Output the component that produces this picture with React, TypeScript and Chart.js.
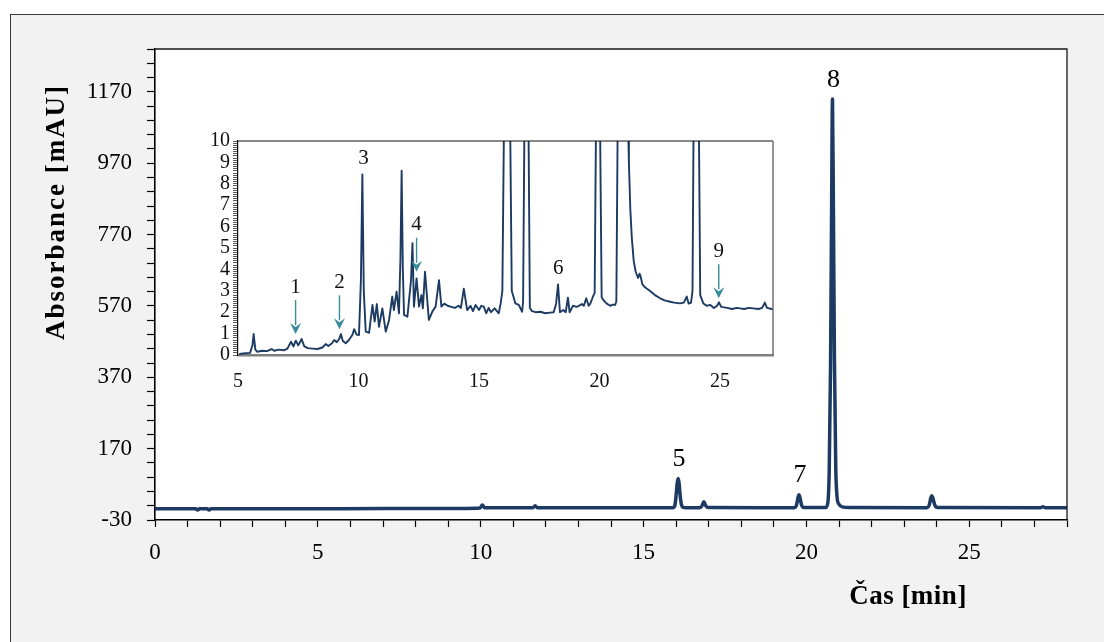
import React, { useEffect, useRef } from 'react';
import { Chart, registerables } from 'chart.js';

Chart.register(...registerables);

const SERIF = "'Liberation Serif', 'Times New Roman', serif";

// Full chromatogram: retention time (min) and absorbance (mAU)
const runTime = [
  0, 1.25, 1.31, 1.37, 1.6, 1.66, 1.72, 4, 7, 9.5, 9.98, 10.05, 10.12, 10.6, 11.6, 11.67, 11.74, 13,
  15.9, 15.96, 16.0, 16.03, 16.06, 16.09, 16.12, 16.16, 16.22, 16.3,
  16.72, 16.79, 16.85, 16.91, 16.98,
  19.62, 19.69, 19.74, 19.77, 19.8, 19.85, 19.92,
  20.6, 20.66, 20.7, 20.74, 20.77, 20.8, 20.83, 20.86, 20.9, 20.94, 21.0, 21.1, 21.3,
  23.7, 23.77, 23.82, 23.85, 23.88, 23.94, 24.02,
  27.18, 27.26, 27.34, 28,
];
const runAbsorbance = [
  1.5, 1.5, -2, 1.5, 1.5, -2, 1.5, 1.5, 2, 2.5, 3.5, 12, 4, 4.5, 4.5, 10, 4.5, 4.5,
  4.5, 10, 40, 72, 86, 74, 42, 14, 5.5, 4.5,
  4.5, 9, 21, 10, 5,
  4.5, 10, 32, 41, 33, 12, 5,
  5, 20, 110, 400, 800, 1150, 820, 420, 120, 35, 14, 7, 5,
  4.5, 12, 32, 38, 32, 12, 5,
  4.5, 7, 4.5, 4.5,
];

// Numbered peaks on the full chromatogram
const runPeakNames = ['5', '7', '8'];
const runPeakTimes = [16.06, 19.77, 20.8];

// Labelled ticks of the full chromatogram
const runTimeLabels = [0, 5, 10, 15, 20, 25];
const runAbsorbanceLabels = [-30, 170, 370, 570, 770, 970, 1170];

// Enlarged baseline region (5–27 min)
const zoomTime = [
  5.05, 5.3, 5.5, 5.6, 5.65, 5.72, 5.8, 6.0, 6.2, 6.4, 6.5, 6.7, 6.9, 7.05, 7.2, 7.3, 7.4, 7.5, 7.64, 7.75,
  7.9, 8.1, 8.3, 8.5, 8.64, 8.75, 8.9, 8.99, 9.1, 9.2, 9.27, 9.35, 9.47, 9.6, 9.75, 9.82, 9.92, 10.02,
  10.1, 10.16, 10.22, 10.3, 10.44, 10.58, 10.67, 10.76, 10.85, 10.99, 11.13, 11.27, 11.4, 11.47, 11.58,
  11.68, 11.74, 11.79, 11.84, 11.89, 12.03, 12.18, 12.24, 12.3, 12.41, 12.51, 12.61, 12.67, 12.76, 12.92,
  13.06, 13.2, 13.34, 13.44, 13.56, 13.7, 13.85, 14.0, 14.15, 14.25, 14.37, 14.51, 14.65, 14.75, 14.86,
  15.0, 15.1, 15.2, 15.3, 15.4, 15.5, 15.65, 15.82, 15.9, 15.97, 16.03, 16.16, 16.3, 16.36, 16.51, 16.65,
  16.79, 16.83, 16.88, 16.97, 17.06, 17.11, 17.2, 17.35, 17.55, 17.75, 17.96, 18.1, 18.2, 18.28, 18.36,
  18.5, 18.6, 18.69, 18.76, 18.9, 19.05, 19.15, 19.27, 19.35, 19.45, 19.55, 19.62, 19.72, 19.8, 19.85,
  19.94, 20.03, 20.09, 20.16, 20.3, 20.45, 20.55, 20.65, 20.7, 20.75, 20.92, 21.2, 21.22, 21.28, 21.34,
  21.42, 21.5, 21.6, 21.66, 21.7, 21.78, 21.9, 22.1, 22.3, 22.52, 22.7, 22.93, 23.1, 23.34, 23.5, 23.62,
  23.7, 23.8, 23.86, 23.9, 24.01, 24.13, 24.18, 24.31, 24.45, 24.6, 24.75, 24.88, 24.96, 25.05, 25.3,
  25.5, 25.7, 25.83, 26.0, 26.2, 26.38, 26.6, 26.75, 26.86, 26.95, 27.14, 27.25,
];
const zoomAbsorbance = [
  0.05, 0.08, 0.1, 0.45, 0.98, 0.25, 0.15, 0.2, 0.18, 0.28, 0.2, 0.25, 0.22, 0.3, 0.62, 0.4, 0.67, 0.45, 0.75, 0.4,
  0.32, 0.3, 0.28, 0.35, 0.51, 0.42, 0.55, 0.7, 0.6, 0.75, 0.98, 0.65, 0.55, 0.7, 0.95, 1.21, 0.95, 0.93,
  3.5, 8.44, 3.0, 1.09, 1.04, 2.34, 1.56, 2.38, 1.32, 2.18, 1.09, 1.64, 2.73, 2.1, 2.96,
  1.95, 4.5, 8.61, 4.0, 1.87, 1.79, 3.5, 5.22, 2.26, 3.58, 2.26, 2.8, 2.18, 3.89, 1.64,
  2.02, 2.26, 3.5, 2.26, 2.4, 2.3, 2.25, 2.2, 2.3, 2.2, 3.1, 2.1, 2.3, 2.05, 2.34,
  2.1, 2.3, 2.26, 1.95, 2.2, 2.0, 2.18, 1.95, 2.41, 3.0, 10, 86, 10, 3.0, 2.41, 2.34,
  2.02, 2.5, 10, 21, 10, 2.2, 2.05, 2.0, 2.02, 1.95, 1.98, 2.0, 2.4, 3.3, 2.0,
  2.1, 2.0, 2.68, 2.0, 2.3, 2.25, 2.3, 2.38, 2.3, 2.65, 2.3, 2.4, 2.7, 2.9, 10,
  41, 10, 2.7, 2.57, 2.4, 2.3, 2.35, 2.34, 2.5, 10, 1150, 10, 9.0, 6.8, 5.5,
  4.4, 3.9, 3.6, 3.8, 3.7, 3.3, 3.15, 2.99, 2.8, 2.65, 2.55, 2.49, 2.45, 2.41, 2.45, 2.73,
  2.4, 2.45, 3.0, 10, 38, 10, 2.8, 2.41, 2.3, 2.34, 2.2, 2.3, 2.46, 2.25, 2.2,
  2.15, 2.2, 2.18, 2.15, 2.2, 2.18, 2.15, 2.2, 2.45, 2.2, 2.15, 2.15,
];

// Numbered peaks in the enlarged region (arrowed ones are minor components)
const zoomPeakNames = ['1', '2', '3', '4', '6', '9'];
const zoomPeakTimes = [7.39, 9.21, 10.17, 12.41, 18.25, 24.95];
const zoomPeakLevels = [0.98, 1.2, 8.44, 3.89, 3.3, 2.65];
const zoomPeakArrows = [true, true, false, true, false, true];

// Labelled ticks of the enlarged region
const zoomTimeLabels = [5, 10, 15, 20, 25];
const zoomAbsorbanceLabels = [0, 1, 2, 3, 4, 5, 6, 7, 8, 9, 10];

const LINE_COLOR = '#1d3a62';
const ARROW_COLOR = '#3a8c9c';

const isLabelled = (v: number, list: number[]) =>
  list.some((l) => Math.abs(l - v) < 1e-6);

const mainFramePlugin = {
  id: 'mainFrame',
  beforeDraw(chart: any) {
    const { ctx, chartArea: a } = chart;
    ctx.save();
    ctx.fillStyle = '#ffffff';
    ctx.fillRect(a.left, a.top, a.right - a.left, a.bottom - a.top);
    ctx.restore();
  },
  afterDraw(chart: any) {
    const { ctx, chartArea: a } = chart;
    ctx.save();
    ctx.strokeStyle = '#1a1a1a';
    ctx.lineWidth = 1.3;
    ctx.beginPath();
    ctx.moveTo(a.left, a.top);
    ctx.lineTo(a.right, a.top);
    ctx.lineTo(a.right, a.bottom);
    ctx.stroke();

    // axis titles
    ctx.fillStyle = '#000';
    ctx.textAlign = 'center';
    ctx.textBaseline = 'middle';
    ctx.font = `bold 27px ${SERIF}`;
    try { (ctx as any).letterSpacing = '0.5px'; } catch (e) { /* ignore */ }
    ctx.fillText('Čas [min]', 908, 597);
    ctx.save();
    try { (ctx as any).letterSpacing = '2px'; } catch (e) { /* ignore */ }
    ctx.translate(57, 212);
    ctx.rotate(-Math.PI / 2);
    ctx.fillText('Absorbance [mAU]', 0, 0);
    ctx.restore();
    ctx.restore();
  },
};

const runPeakLabelPlugin = {
  id: 'runPeakLabels',
  afterDatasetsDraw(chart: any) {
    const { ctx, scales } = chart;
    ctx.save();
    ctx.fillStyle = '#000';
    ctx.font = `26px ${SERIF}`;
    ctx.textAlign = 'center';
    ctx.textBaseline = 'middle';
    runPeakNames.forEach((name, i) => {
      let best = 0;
      runTime.forEach((t, j) => {
        if (Math.abs(t - runPeakTimes[i]) < Math.abs(runTime[best] - runPeakTimes[i])) best = j;
      });
      const px = scales.x.getPixelForValue(runTime[best]);
      const py = scales.y.getPixelForValue(runAbsorbance[best]);
      ctx.fillText(name, px + 1, py - 19);
    });
    ctx.restore();
  },
};

const zoomFramePlugin = {
  id: 'zoomFrame',
  afterDraw(chart: any) {
    const { ctx, chartArea: a } = chart;
    ctx.save();
    ctx.strokeStyle = '#111';
    ctx.lineWidth = 1.2;
    ctx.beginPath();
    ctx.moveTo(a.left, a.top);
    ctx.lineTo(a.right, a.top);
    ctx.stroke();
    ctx.strokeStyle = '#7a7a7a';
    ctx.lineWidth = 1.6;
    ctx.beginPath();
    ctx.moveTo(a.right, a.top);
    ctx.lineTo(a.right, a.bottom);
    ctx.stroke();
    ctx.restore();
  },
};

const zoomPeakLabelPlugin = {
  id: 'zoomPeakLabels',
  afterDatasetsDraw(chart: any) {
    const { ctx, scales } = chart;
    ctx.save();
    ctx.font = `21px ${SERIF}`;
    ctx.textAlign = 'center';
    ctx.textBaseline = 'middle';
    zoomPeakNames.forEach((name, i) => {
      const px = scales.x.getPixelForValue(zoomPeakTimes[i]);
      const py = scales.y.getPixelForValue(zoomPeakLevels[i]);
      if (zoomPeakArrows[i]) {
        const tail = py - 34;
        ctx.strokeStyle = ARROW_COLOR;
        ctx.fillStyle = ARROW_COLOR;
        ctx.lineWidth = 1.4;
        ctx.beginPath();
        ctx.moveTo(px, tail);
        ctx.lineTo(px, py - 9);
        ctx.stroke();
        ctx.beginPath();
        ctx.moveTo(px - 5.5, py - 11);
        ctx.lineTo(px, py - 7);
        ctx.lineTo(px + 5.5, py - 11);
        ctx.lineTo(px, py);
        ctx.closePath();
        ctx.fill();
        ctx.fillStyle = '#111';
        ctx.fillText(name, px, tail - 13);
      } else {
        ctx.fillStyle = '#111';
        ctx.fillText(name, px + 1, py - 16);
      }
    });
    ctx.restore();
  },
};

export default function App() {
  const mainRef = useRef<HTMLCanvasElement | null>(null);
  const zoomRef = useRef<HTMLCanvasElement | null>(null);

  useEffect(() => {
    if (!mainRef.current || !zoomRef.current) return;

    const mainChart = new Chart(mainRef.current, {
      type: 'line',
      data: {
        datasets: [
          {
            data: runTime.map((t, i) => ({ x: t, y: runAbsorbance[i] })),
            borderColor: LINE_COLOR,
            borderWidth: 3.5,
            pointRadius: 0,
            cubicInterpolationMode: 'monotone',
            borderJoinStyle: 'round',
            borderCapStyle: 'round',
            fill: false,
          },
        ],
      },
      options: {
        animation: false,
        responsive: false,
        devicePixelRatio: 1,
        events: [],
        layout: { padding: { left: 0, top: 49, right: 37, bottom: 0 } },
        plugins: { legend: { display: false }, tooltip: { enabled: false } },
        scales: {
          x: {
            type: 'linear',
            min: 0,
            max: 28,
            afterFit: (s: any) => { s.height = 122; },
            ticks: {
              stepSize: 1,
              autoSkip: false,
              maxRotation: 0,
              padding: 12,
              color: '#000',
              font: { family: SERIF, size: 23 },
              callback: (v: any) => (isLabelled(Number(v), runTimeLabels) ? String(Math.round(Number(v))) : ''),
            },
            grid: { drawOnChartArea: false, drawTicks: true, tickLength: 7, color: '#000', tickColor: '#000', tickWidth: 1.2 },
            border: { display: true, color: '#000', width: 1.6 },
          },
          y: {
            type: 'linear',
            min: -30,
            max: 1290,
            afterFit: (s: any) => { s.width = 155; },
            ticks: {
              stepSize: 40,
              autoSkip: false,
              padding: 15,
              color: '#000',
              font: { family: SERIF, size: 23 },
              callback: (v: any) => (isLabelled(Number(v), runAbsorbanceLabels) ? String(Math.round(Number(v))) : ''),
            },
            grid: { drawOnChartArea: false, drawTicks: true, tickLength: 8, color: '#000', tickColor: '#000', tickWidth: 1.2 },
            border: { display: true, color: '#000', width: 1.6 },
          },
        },
      },
      plugins: [mainFramePlugin, runPeakLabelPlugin],
    } as any);

    const zoomChart = new Chart(zoomRef.current, {
      type: 'line',
      data: {
        datasets: [
          {
            data: zoomTime.map((t, i) => ({ x: t, y: zoomAbsorbance[i] })),
            borderColor: LINE_COLOR,
            borderWidth: 1.9,
            pointRadius: 0,
            tension: 0,
            borderJoinStyle: 'round',
            fill: false,
            clip: 0,
          },
        ],
      },
      options: {
        animation: false,
        responsive: false,
        devicePixelRatio: 1,
        events: [],
        layout: { padding: { left: 0, top: 16, right: 12, bottom: 0 } },
        plugins: { legend: { display: false }, tooltip: { enabled: false } },
        scales: {
          x: {
            type: 'linear',
            min: 5,
            max: 27.2,
            afterFit: (s: any) => { s.height = 45; },
            ticks: {
              stepSize: 5,
              includeBounds: false,
              autoSkip: false,
              maxRotation: 0,
              padding: 15,
              color: '#111',
              font: { family: SERIF, size: 20 },
              callback: (v: any) => (isLabelled(Number(v), zoomTimeLabels) ? String(Math.round(Number(v))) : ''),
            },
            grid: { display: false, drawTicks: false },
            border: { display: true, color: '#7f7f7f', width: 2.5 },
          },
          y: {
            type: 'linear',
            min: 0,
            max: 10,
            afterFit: (s: any) => { s.width = 53; },
            ticks: {
              stepSize: 0.1,
              autoSkip: false,
              padding: 3,
              color: '#111',
              font: { family: SERIF, size: 20 },
              callback: (v: any) => (isLabelled(Number(v), zoomAbsorbanceLabels) ? String(Math.round(Number(v))) : ''),
            },
            grid: { drawOnChartArea: false, drawTicks: true, tickLength: 5, color: '#333', tickColor: '#333', tickWidth: 0.8 },
            border: { display: true, color: '#111', width: 1.2 },
          },
        },
      },
      plugins: [zoomFramePlugin, zoomPeakLabelPlugin],
    } as any);

    return () => {
      mainChart.destroy();
      zoomChart.destroy();
    };
  }, []);

  return (
    <div
      style={{
        position: 'fixed',
        left: 0,
        top: 0,
        width: 1104,
        height: 642,
        background: '#ffffff',
        overflow: 'hidden',
      }}
    >
      <div
        style={{
          position: 'absolute',
          left: 10,
          top: 14,
          width: 1120,
          height: 660,
          background: '#f2f2f2',
          border: '1.5px solid #3a3a3a',
          boxSizing: 'border-box',
        }}
      />
      <canvas
        ref={mainRef}
        width={1104}
        height={642}
        style={{ position: 'absolute', left: 0, top: 0, width: 1104, height: 642 }}
      />
      <canvas
        ref={zoomRef}
        width={600}
        height={275}
        style={{ position: 'absolute', left: 185, top: 125, width: 600, height: 275 }}
      />
    </div>
  );
}
